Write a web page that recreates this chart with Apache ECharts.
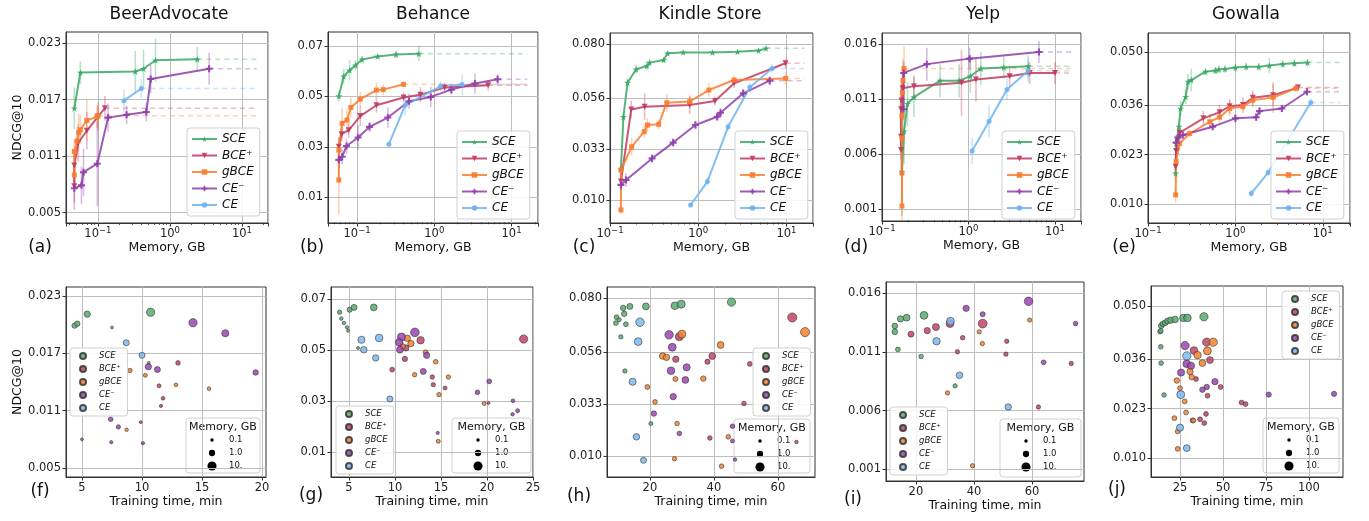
<!DOCTYPE html>
<html><head><meta charset="utf-8">
<script src="https://cdn.jsdelivr.net/npm/echarts@6/dist/echarts.min.js"></script>
<style>html,body{margin:0;padding:0;background:#fff}#c{width:1369px;height:521px}</style>
</head><body><div id="c"></div><script>
const METHODS = ['SCE', 'BCE⁺', 'gBCE', 'CE⁻', 'CE'];
const DATASETS = ['BeerAdvocate', 'Behance', 'Kindle Store', 'Yelp', 'Gowalla'];
const PANEL_LABELS = ['(a)', '(b)', '(c)', '(d)', '(e)', '(f)', '(g)', '(h)', '(i)', '(j)'];
const MEMORY_LEGEND_GB = [0.1, 1.0, 10];
const MEMORY_LEGEND_TEXT = ['0.1', '1.0', '10.'];
const DASH_TO_GB = 16;

// ---- top row: [memory GB, NDCG@10, error half-width] ----
const A_SCE = [[0.047,0.0161,0.0022],[0.057,0.0199,0.0012],[0.33,0.0200,0.0022],[0.43,0.0203,0.0020],[0.63,0.0212,0.0023],[2.4,0.0213,0.0013]];
const A_BCE = [[0.047,0.0078,0.0025],[0.047,0.0100,0.0015],[0.053,0.0124,0.0020],[0.070,0.0137,0.0020],[0.10,0.0152,0.0015],[0.125,0.0161,0.0013]];
const A_GBCE = [[0.047,0.0090,0.0010],[0.047,0.0115,0.0012],[0.051,0.0126,0.0015],[0.054,0.0135,0.0020],[0.057,0.0138,0.0015],[0.070,0.0148,0.0022],[0.097,0.0152,0.0012],[0.10,0.0153,0.0010]];
const A_CEM = [[0.047,0.0076,0.0015],[0.059,0.0079,0.0020],[0.063,0.0093,0.0025],[0.098,0.0102,0.0045],[0.138,0.0151,0.0015],[0.25,0.0154,0.0010],[0.47,0.0157,0.0010],[0.54,0.0192,0.0015],[3.5,0.0203,0.0017]];
const A_CE = [[0.23,0.0169,0.0012],[0.40,0.0182,0.0010]];

const B_SCE = [[0.058,0.0501,0.002],[0.067,0.058,0.003],[0.080,0.0604,0.004],[0.095,0.0624,0.002],[0.116,0.0647,0.0015],[0.185,0.0659,0.001],[0.32,0.0667,0.0015],[0.63,0.067,0.003]];
const B_BCE = [[0.058,0.0300,0.004],[0.063,0.0350,0.003],[0.078,0.0366,0.003],[0.11,0.0422,0.004],[0.178,0.0465,0.003],[0.40,0.0496,0.002],[0.66,0.0507,0.003],[1.36,0.0535,0.002],[4.98,0.0544,0.002]];
const B_GBCE = [[0.058,0.0168,0.014],[0.058,0.0287,0.005],[0.064,0.0393,0.006],[0.074,0.0406,0.004],[0.083,0.0456,0.004],[0.11,0.0489,0.003],[0.178,0.0525,0.003],[0.218,0.0527,0.002],[0.40,0.0548,0.001]];
const B_CEM = [[0.058,0.0248,0.003],[0.064,0.026,0.003],[0.073,0.0303,0.003],[0.103,0.0337,0.005],[0.145,0.0379,0.002],[0.25,0.0416,0.004],[0.47,0.0481,0.003],[0.90,0.0498,0.004],[1.66,0.0527,0.002],[3.36,0.0551,0.004],[6.6,0.0568,0.002]];
const B_CE = [[0.258,0.031,0.001],[0.42,0.0465,0.004],[1.2,0.054,0.002],[2.3,0.0547,0.004]];

const C_SCE = [[0.133,0.0239,0.002],[0.142,0.0475,0.002],[0.158,0.0628,0.002],[0.198,0.0688,0.002],[0.262,0.0703,0.002],[0.281,0.0718,0.001],[0.406,0.073,0.001],[0.45,0.076,0.001],[0.675,0.0764,0.0005],[1.45,0.0764,0.0005],[2.79,0.0767,0.0005],[4.83,0.0772,0.0005],[5.86,0.0782,0.0005]];
const C_BCE = [[0.133,0.0184,0.003],[0.174,0.0508,0.004],[0.247,0.052,0.006],[0.80,0.0528,0.004],[1.55,0.0546,0.002],[2.55,0.0625,0.002],[9.75,0.0715,0.002]];
const C_GBCE = [[0.133,0.0057,0.002],[0.133,0.0236,0.002],[0.176,0.034,0.004],[0.244,0.0408,0.003],[0.266,0.0438,0.003],[0.356,0.0441,0.002],[0.44,0.0538,0.004],[0.80,0.0543,0.003],[1.32,0.0595,0.003],[2.55,0.064,0.002],[9.8,0.0647,0.003]];
const C_CEM = [[0.133,0.0169,0.003],[0.152,0.0191,0.003],[0.30,0.0288,0.002],[0.52,0.0359,0.002],[0.93,0.0438,0.002],[1.64,0.0475,0.002],[1.79,0.0493,0.002],[3.24,0.058,0.002],[6.46,0.0637,0.002]];
const C_CE = [[0.82,0.0079,0.001],[1.27,0.0184,0.002],[2.18,0.043,0.002],[3.85,0.0607,0.002],[6.87,0.0692,0.002]];

const D_SCE = [[0.17,0.0044,0.004],[0.18,0.0081,0.003],[0.197,0.0106,0.002],[0.234,0.0112,0.0018],[0.47,0.0127,0.0015],[0.78,0.0127,0.0015],[1.05,0.0131,0.0015],[1.39,0.0138,0.0015],[2.56,0.0139,0.001],[4.9,0.014,0.001]];
const D_BCE = [[0.166,0.0064,0.002],[0.166,0.0076,0.002],[0.166,0.0101,0.002],[0.168,0.0109,0.002],[0.173,0.012,0.002],[0.234,0.0122,0.001],[0.83,0.0125,0.003],[1.22,0.0128,0.002],[2.99,0.0131,0.001],[5.1,0.0134,0.001],[10,0.0134,0.001]];
const D_GBCE = [[0.17,0.0013,0.002],[0.17,0.0043,0.002],[0.17,0.0075,0.002],[0.17,0.0095,0.002],[0.172,0.0116,0.002],[0.175,0.0127,0.002],[0.18,0.0138,0.002]];
const D_CEM = [[0.177,0.0101,0.001],[0.178,0.0134,0.001],[0.33,0.0142,0.0015],[1.03,0.0147,0.001],[6.53,0.0153,0.001]];
const D_CE = [[1.1,0.0063,0.0012],[1.73,0.009,0.0015],[2.79,0.0119,0.001],[4.9,0.0136,0.001]];

const E_SCE = [[0.207,0.0181,0.002],[0.21,0.026,0.002],[0.226,0.0304,0.002],[0.236,0.0352,0.002],[0.27,0.0383,0.002],[0.287,0.0423,0.002],[0.313,0.0427,0.003],[0.455,0.0449,0.001],[0.59,0.0452,0.001],[0.647,0.0455,0.001],[0.76,0.0456,0.001],[1.0,0.046,0.001],[1.33,0.0462,0.001],[1.85,0.0462,0.001],[2.45,0.0465,0.002],[3.48,0.0469,0.001],[4.74,0.0471,0.001],[6.7,0.0473,0.001]];
const E_BCE = [[0.207,0.0198,0.002],[0.21,0.024,0.002],[0.23,0.0288,0.002],[0.43,0.0326,0.002],[0.66,0.0342,0.002],[0.86,0.0358,0.002],[1.22,0.0361,0.002],[1.58,0.038,0.002],[2.7,0.0387,0.003],[5.2,0.0407,0.001]];
const E_GBCE = [[0.207,0.0124,0.002],[0.21,0.0212,0.002],[0.23,0.026,0.002],[0.30,0.0286,0.001],[0.51,0.0317,0.002],[0.66,0.0329,0.002],[0.86,0.0352,0.002],[1.22,0.0357,0.001],[1.58,0.0374,0.002],[2.7,0.0381,0.004],[4.9,0.0405,0.001]];
const E_CEM = [[0.21,0.0262,0.002],[0.22,0.0275,0.001],[0.25,0.0282,0.001],[0.55,0.0304,0.001],[1.0,0.0326,0.001],[1.73,0.0329,0.001],[1.89,0.0345,0.001],[3.4,0.0352,0.001],[6.6,0.0396,0.001]];
const E_CE = [[1.52,0.0128,0.001],[2.37,0.0183,0.001],[7.3,0.0368,0.001]];

// ---- bottom row: [training time min, NDCG@10, memory GB] ----
const F_SCE = [[4.39,0.0199,0.5],[4.61,0.0201,0.5],[5.44,0.0211,1],[10.72,0.0213,5],[7.5,0.0197,0.06],[10.56,0.0160,0.06]];
const F_BCE = [[13.0,0.0160,0.25],[11.42,0.0136,0.15],[11.75,0.0123,0.12],[11.58,0.0115,0.08],[9.9,0.0098,0.06]];
const F_GBCE = [[9.0,0.0152,0.2],[10.28,0.0147,0.15],[12.83,0.0137,0.12],[15.58,0.0133,0.12],[8.72,0.0090,0.1]];
const F_CEM = [[14.25,0.0202,5],[16.94,0.0191,2],[10.53,0.0156,1],[11.28,0.0153,0.8],[19.47,0.0150,0.5],[7.39,0.0101,0.25],[8.03,0.0093,0.2],[7.44,0.0077,0.08],[5.0,0.0080,0.06],[10.08,0.0076,0.08]];
const F_CE = [[8.69,0.0181,0.8],[10.0,0.0168,0.8]];

const G_SCE = [[3.98,0.0648,0.2],[4.16,0.0623,0.1],[4.45,0.0606,0.1],[4.78,0.0589,0.08],[4.89,0.0576,0.07],[5.07,0.0658,0.4],[5.55,0.0667,0.8],[7.69,0.0667,1.5],[5.98,0.0508,0.07]];
const G_BCE = [[23.98,0.0543,5],[12.78,0.0538,2.5],[11.18,0.0508,1],[11.07,0.0465,0.4],[9.69,0.0423,0.3],[14.05,0.0394,0.2],[14.16,0.0364,0.2],[15.44,0.0351,0.15],[20.16,0.0292,0.06]];
const G_GBCE = [[11.33,0.0546,1.2],[11.73,0.0525,1],[10.82,0.0514,0.6],[13.33,0.0491,0.3],[14.42,0.0454,0.25],[12.13,0.0403,0.2],[15.8,0.0394,0.2],[14.78,0.0325,0.2],[19.69,0.029,0.15],[14.7,0.0142,0.15]];
const G_CEM = [[12.16,0.0569,7],[10.7,0.0551,4],[10.45,0.053,3],[10.53,0.0501,1.5],[13.44,0.0479,1],[13.07,0.0416,0.8],[20.24,0.0377,0.3],[18.96,0.0334,0.25],[22.82,0.0301,0.12],[23.33,0.0262,0.15],[22.78,0.0248,0.1],[14.64,0.0175,0.08]];
const G_CE = [[6.35,0.054,2],[6.6,0.0501,1.2],[7.9,0.0469,1],[8.27,0.0547,3],[9.44,0.0308,0.8]];

const H_SCE = [[9.38,0.0689,0.3],[9.58,0.0715,0.3],[10.42,0.0704,0.15],[11.67,0.0756,0.5],[13.75,0.0763,0.8],[11.98,0.073,0.5],[12.5,0.0684,0.3],[10.94,0.0628,0.2],[12.19,0.0477,0.2],[18.75,0.0763,1.5],[27.8,0.0766,3],[29.8,0.0773,4],[45.5,0.0782,5],[20.3,0.0244,0.15]];
const H_BCE = [[29.2,0.0629,4],[64.5,0.0714,10],[28.1,0.0529,1],[39.5,0.0543,1.5],[38.0,0.0518,0.4],[51.25,0.0508,0.3],[49.4,0.0333,0.25],[38.75,0.018,0.25],[65.8,0.0162,0.1]];
const H_GBCE = [[30.0,0.064,4],[68.5,0.0649,10],[42.1,0.0592,1.5],[24.0,0.0543,1.2],[25.2,0.0537,1],[28.0,0.0441,0.35],[36.7,0.0443,0.5],[19.2,0.0406,0.3],[21.6,0.034,0.25],[28.5,0.0244,0.25],[44.5,0.0185,0.25],[27.7,0.0088,0.2],[42.4,0.0055,0.25]];
const H_CEM = [[26.0,0.0637,6],[27.0,0.0582,3.5],[26.6,0.0478,3],[31.5,0.0493,2],[31.1,0.0437,1.5],[27.3,0.0363,1],[21.25,0.0288,0.5],[29.2,0.020,0.25],[45.8,0.0232,0.25],[45.8,0.0167,0.15],[46.6,0.0084,0.1]];
const H_CE = [[16.9,0.0693,6],[16.35,0.0607,3.5],[14.6,0.0429,2],[15.8,0.0185,1.2],[18.0,0.0081,0.8]];

const I_SCE = [[12.74,0.0132,0.6],[12.74,0.0127,0.6],[14.7,0.0138,1],[16.8,0.0139,1.5],[22.8,0.0141,3.5],[13.8,0.0112,0.3],[21.8,0.0106,0.25],[33.5,0.0081,0.2]];
const I_BCE = [[18.3,0.0125,0.8],[23.9,0.0128,1],[26.9,0.0131,1.8],[31.75,0.0134,3.5],[43.0,0.0134,8],[36.1,0.0122,0.25],[34.3,0.011,0.2],[51.3,0.0119,0.2],[51.0,0.0108,0.2],[73.5,0.01,0.2],[62.2,0.0063,0.2]];
const I_GBCE = [[41.8,0.0127,0.2],[42.9,0.0117,0.2],[59.2,0.0137,0.2],[30.9,0.0075,0.2],[39.5,0.0013,0.2]];
const I_CEM = [[58.8,0.0153,6],[37.3,0.0147,1],[43.0,0.0142,0.35],[75.0,0.0134,0.25],[64.0,0.0101,0.3]];
const I_CE = [[31.9,0.0136,3.5],[27.1,0.0119,2.5],[35.0,0.009,1.3],[51.8,0.0063,1.1]];

const J_SCE = [[13.4,0.0433,0.3],[13.8,0.0435,0.3],[14.0,0.0448,0.5],[14.9,0.0453,0.5],[16.3,0.0456,0.6],[17.8,0.0461,0.8],[19.6,0.0463,1],[22.1,0.0465,1.2],[26.9,0.0469,2.5],[29.3,0.0469,3],[38.9,0.0472,5],[13.8,0.0393,0.25],[14.0,0.035,0.25],[15.7,0.0266,0.25]];
const J_BCE = [[40.5,0.0405,5],[33.1,0.0383,3],[42.4,0.0358,1.5],[34.3,0.0308,0.3],[48.6,0.0287,0.3],[41.0,0.0264,0.3],[60.8,0.0246,0.3],[63.1,0.0242,0.3],[40.1,0.0216,0.3],[36.6,0.0202,0.3],[39.1,0.0192,0.3],[32.3,0.0199,0.3]];
const J_GBCE = [[44.3,0.0405,5],[40.9,0.0382,3.5],[35.2,0.0371,2.5],[38.0,0.035,1.5],[30.8,0.0328,1],[31.8,0.0313,0.5],[23.1,0.0304,0.5],[25.0,0.0284,0.3],[27.7,0.0249,0.3],[28.5,0.022,0.3],[21.7,0.0205,0.3],[23.6,0.017,0.3],[23.6,0.0124,0.3],[32.7,0.0199,0.3]];
const J_CEM = [[27.9,0.0396,5],[28.9,0.0348,3],[31.4,0.0343,2],[25.6,0.0325,2],[45.3,0.0301,1],[40.5,0.0287,0.5],[38.0,0.028,0.5],[76.6,0.0267,0.4],[114.6,0.0269,0.4]];
const J_CE = [[28.9,0.0369,5],[25.4,0.0267,4],[25.0,0.018,2],[28.9,0.0126,1.5]];

// ---- axes ----
const TOP_X_RANGE = [[0.036, 23], [0.042, 22], [0.1, 20], [0.1, 20], [0.1, 20.5]];
const TOP_X_MINOR = [0.02,0.03,0.04,0.05,0.06,0.07,0.08,0.09,0.2,0.3,0.4,0.5,0.6,0.7,0.8,0.9,2,3,4,5,6,7,8,9,20,30];
const TOP_Y_RANGE = [[0.0039, 0.0242], [-0.0003, 0.0756], [-0.0002, 0.0851], [-0.00006, 0.01703], [0.005, 0.0551]];
const TOP_Y_TICKS = [[0.005, 0.011, 0.017, 0.023], [0.01, 0.03, 0.05, 0.07], [0.010, 0.033, 0.056, 0.080], [0.001, 0.006, 0.011, 0.016], [0.010, 0.023, 0.036, 0.050]];
const BOT_X_RANGE = [[3.67, 20.33], [3.04, 25], [6.6, 71.6], [9.7, 77.9], [8.1, 119.8]];
const BOT_X_TICKS = [[5, 10, 15, 20], [5, 10, 15, 20, 25], [20, 40, 60], [20, 40, 60], [25, 50, 75, 100]];
const BOT_Y_RANGE = [[0.00406, 0.02394], [0.0002, 0.0747], [0.0007, 0.0849], [0.0, 0.01694], [0.005, 0.0553]];
const BOT_Y_TICKS = TOP_Y_TICKS;
const Y_DECIMALS = [3, 2, 3, 3, 3];

const TOP_DATA = [[A_SCE,A_BCE,A_GBCE,A_CEM,A_CE],[B_SCE,B_BCE,B_GBCE,B_CEM,B_CE],[C_SCE,C_BCE,C_GBCE,C_CEM,C_CE],[D_SCE,D_BCE,D_GBCE,D_CEM,D_CE],[E_SCE,E_BCE,E_GBCE,E_CEM,E_CE]];
const BOT_DATA = [[F_SCE,F_BCE,F_GBCE,F_CEM,F_CE],[G_SCE,G_BCE,G_GBCE,G_CEM,G_CE],[H_SCE,H_BCE,H_GBCE,H_CEM,H_CE],[I_SCE,I_BCE,I_GBCE,I_CEM,I_CE],[J_SCE,J_BCE,J_GBCE,J_CEM,J_CE]];

// ---- layout & style ----
const TOP_GRIDS = [[66,32,202,191],[328,32,210,191],[610,33,203,190],[882,33,199,188],[1148,33,202,190]];
const BOT_GRIDS = [[66,287,200,190],[331,287,202,190],[607,287,208,190],[886,282,198,199],[1151,286,192,191]];
const TITLE_X = [169, 433, 710, 983, 1246];
const LABEL_POS = [[40,248],[312,248],[584,248],[856,248],[1124,248],[40,492],[311,496],[579,497],[853,500],[1117,490]];
const TOP_LEGEND_POS = [[187,128],[457,131],[735,131],[1002,131],[1271,131]];
const BOT_LEGEND_POS = [[70,348],[336,406],[753,348],[890,407],[1282,291]];
const MEM_LEGEND_BOX = [[186,418,74,55],[452,418,79,55],[734,419,76,54],[1000,419,81,58],[1263,418,76,55]];
const LINE_COLORS = ['#3aa864', '#bf3a5e', '#f97b2f', '#8e3ea8', '#6db3f2'];
const SCAT_COLORS = ['#5aac6e', '#c04566', '#f5842f', '#9a46b0', '#7cb9f0'];
const STAR = 'path://M50,0 L61,35 L98,35 L68,57 L79,91 L50,70 L21,91 L32,57 L2,35 L39,35 Z';
const PLUS = 'path://M35,0H65V35H100V65H65V100H35V65H0V35H35Z';
const SYMBOLS = [STAR, 'triangle', 'rect', PLUS, 'circle'];
const SYMBOL_SIZE = [7, 6, 5, 7, 5];
const SYMBOL_ROT = [0, 180, 0, 0, 0];
const FONT = 'DejaVu Sans';
const AXIS_COLOR = '#333';
const GRID_COLOR = '#bdbdbd';
const sizeOf = m => Math.max(2.5, 6.3 + 2.8 * Math.log10(m));

const grid = [], xAxis = [], yAxis = [], series = [], legend = [], graphic = [];
const minorAxes = [];

function logFormatter(v) {
  const k = Math.log10(v), r = Math.round(k);
  if (Math.abs(k - r) > 1e-6) return '';
  return '{b|10}{s|' + (r < 0 ? '−' : '') + Math.abs(r) + '}';
}

// top row
for (let p = 0; p < 5; p++) {
  const g = TOP_GRIDS[p];
  grid.push({left: g[0], top: g[1], width: g[2], height: g[3], show: true, borderColor: AXIS_COLOR, borderWidth: 1, backgroundColor: 'transparent'});
  xAxis.push({
    type: 'log', logBase: 10, gridIndex: p, min: TOP_X_RANGE[p][0], max: TOP_X_RANGE[p][1], position: 'bottom',
    name: 'Memory, GB', nameLocation: 'middle', nameGap: 17,
    nameTextStyle: {fontFamily: FONT, fontSize: 12.5, color: '#111'},
    axisLine: {show: true, onZero: false, lineStyle: {color: AXIS_COLOR}},
    axisTick: {show: true, length: 3.5, lineStyle: {color: AXIS_COLOR}},
    axisLabel: {formatter: logFormatter, margin: 3, showMinLabel: true, showMaxLabel: true, hideOverlap: false,
      rich: {b: {fontFamily: FONT, fontSize: 11.5, color: '#222', lineHeight: 14, verticalAlign: 'bottom'},
             s: {fontFamily: FONT, fontSize: 8.5, color: '#222', lineHeight: 7, verticalAlign: 'top'}}},
    splitLine: {show: true, lineStyle: {color: GRID_COLOR, width: 1}}
  });
  // helper axis (log10 units) only carrying the minor tick marks of the log axis
  const lo = Math.log10(TOP_X_RANGE[p][0]), hi = Math.log10(TOP_X_RANGE[p][1]);
  const minor = TOP_X_MINOR.map(v => Math.log10(v)).filter(v => v > lo && v < hi);
  minorAxes.push({
    type: 'value', gridIndex: p, min: lo, max: hi, position: 'bottom', offset: 0,
    axisLine: {show: false}, axisLabel: {show: false, customValues: minor}, splitLine: {show: false},
    axisTick: {show: true, length: 2, customValues: minor, lineStyle: {color: AXIS_COLOR, width: 0.8}}
  });
  yAxis.push({
    type: 'value', gridIndex: p, min: TOP_Y_RANGE[p][0], max: TOP_Y_RANGE[p][1],
    name: p === 0 ? 'NDCG@10' : '', nameLocation: 'middle', nameGap: 41,
    nameTextStyle: {fontFamily: FONT, fontSize: 12.5, color: '#111'},
    axisLine: {show: true, onZero: false, lineStyle: {color: AXIS_COLOR}},
    axisTick: {show: true, length: 3.5, customValues: TOP_Y_TICKS[p], lineStyle: {color: AXIS_COLOR}},
    axisLabel: {customValues: TOP_Y_TICKS[p], formatter: v => v.toFixed(Y_DECIMALS[p]), margin: 5, fontFamily: FONT, fontSize: 11.5, color: '#222'},
    splitLine: {show: true, customValues: TOP_Y_TICKS[p], lineStyle: {color: GRID_COLOR, width: 1}}
  });
  TOP_DATA[p].forEach((rows, m) => {
    const color = LINE_COLORS[m];
    series.push({
      type: 'custom', xAxisIndex: p, yAxisIndex: p, silent: true, clip: true, z: 1,
      data: rows.map(r => [r[0], r[1] - r[2], r[1] + r[2]]),
      encode: {x: 0, y: [1, 2]},
      renderItem: (params, api) => {
        const a = api.coord([api.value(0), api.value(1)]);
        const b = api.coord([api.value(0), api.value(2)]);
        return {type: 'line', shape: {x1: a[0], y1: a[1], x2: b[0], y2: b[1]}, style: {stroke: color, lineWidth: 1.6, opacity: 0.35}};
      }
    });
    const last = rows[rows.length - 1];
    series.push({
      type: 'line', xAxisIndex: p, yAxisIndex: p, silent: true, symbol: 'none', z: 1,
      data: [[last[0], last[1]], [DASH_TO_GB, last[1]]],
      lineStyle: {color: color, width: 1.5, type: [5, 4], opacity: 0.35}
    });
  });
  TOP_DATA[p].forEach((rows, m) => {
    series.push({
      name: METHODS[m], type: 'line', xAxisIndex: p, yAxisIndex: p, z: 3,
      data: rows.map(r => [r[0], r[1]]),
      symbol: SYMBOLS[m], symbolSize: SYMBOL_SIZE[m], symbolRotate: SYMBOL_ROT[m], showAllSymbol: true,
      itemStyle: {color: LINE_COLORS[m], opacity: 0.9},
      lineStyle: {color: LINE_COLORS[m], width: 2, opacity: 0.85}
    });
  });
  legend.push({
    data: METHODS, left: TOP_LEGEND_POS[p][0], top: TOP_LEGEND_POS[p][1], orient: 'vertical',
    itemWidth: 25, itemHeight: 7, itemGap: 2.5, padding: [4, 6, 4, 4],
    backgroundColor: 'rgba(255,255,255,0.85)', borderColor: '#d0d0d0', borderWidth: 1, borderRadius: 3,
    selectedMode: false,
    textStyle: {fontFamily: FONT, fontSize: 12, fontStyle: 'italic', color: '#111', lineHeight: 14}
  });
  graphic.push({type: 'text', x: TITLE_X[p], y: 15, silent: true,
    style: {text: DATASETS[p], font: '17px "DejaVu Sans"', fill: '#111', textAlign: 'center', textVerticalAlign: 'middle'}});
}

// bottom row
for (let p = 0; p < 5; p++) {
  const gi = p + 5, g = BOT_GRIDS[p];
  grid.push({left: g[0], top: g[1], width: g[2], height: g[3], show: true, borderColor: AXIS_COLOR, borderWidth: 1, backgroundColor: 'transparent'});
  xAxis.push({
    type: 'value', gridIndex: gi, min: BOT_X_RANGE[p][0], max: BOT_X_RANGE[p][1], position: 'bottom',
    name: 'Training time, min', nameLocation: 'middle', nameGap: 17,
    nameTextStyle: {fontFamily: FONT, fontSize: 12.5, color: '#111'},
    axisLine: {show: true, onZero: false, lineStyle: {color: AXIS_COLOR}},
    axisTick: {show: true, length: 3.5, customValues: BOT_X_TICKS[p], lineStyle: {color: AXIS_COLOR}},
    axisLabel: {customValues: BOT_X_TICKS[p], margin: 5, fontFamily: FONT, fontSize: 11.5, color: '#222'},
    splitLine: {show: true, customValues: BOT_X_TICKS[p], lineStyle: {color: GRID_COLOR, width: 1}}
  });
  yAxis.push({
    type: 'value', gridIndex: gi, min: BOT_Y_RANGE[p][0], max: BOT_Y_RANGE[p][1],
    name: p === 0 ? 'NDCG@10' : '', nameLocation: 'middle', nameGap: 41,
    nameTextStyle: {fontFamily: FONT, fontSize: 12.5, color: '#111'},
    axisLine: {show: true, onZero: false, lineStyle: {color: AXIS_COLOR}},
    axisTick: {show: true, length: 3.5, customValues: BOT_Y_TICKS[p], lineStyle: {color: AXIS_COLOR}},
    axisLabel: {customValues: BOT_Y_TICKS[p], formatter: v => v.toFixed(Y_DECIMALS[p]), margin: 5, fontFamily: FONT, fontSize: 11.5, color: '#222'},
    splitLine: {show: true, customValues: BOT_Y_TICKS[p], lineStyle: {color: GRID_COLOR, width: 1}}
  });
  BOT_DATA[p].forEach((rows, m) => {
    series.push({
      name: METHODS[m] + '\u200b', type: 'scatter', xAxisIndex: gi, yAxisIndex: gi, z: 3,
      data: rows, symbolSize: v => sizeOf(v[2]),
      itemStyle: {color: SCAT_COLORS[m], opacity: 0.85, borderColor: '#333', borderWidth: 0.7}
    });
  });
  legend.push({
    data: METHODS.map(n => n + '\u200b'), left: BOT_LEGEND_POS[p][0], top: BOT_LEGEND_POS[p][1], orient: 'vertical',
    itemWidth: 6, itemHeight: 6, itemGap: 3, padding: [3, 6, 3, 9], icon: 'circle',
    backgroundColor: 'rgba(255,255,255,0.85)', borderColor: '#d0d0d0', borderWidth: 1, borderRadius: 3,
    selectedMode: false,
    textStyle: {fontFamily: FONT, fontSize: 8.5, fontStyle: 'italic', color: '#111', lineHeight: 10, padding: [0, 0, 0, 8]}
  });
  const b = MEM_LEGEND_BOX[p];
  const children = [
    {type: 'rect', shape: {x: 0, y: 0, width: b[2], height: b[3], r: 3}, style: {fill: 'rgba(255,255,255,0.85)', stroke: '#d0d0d0', lineWidth: 1}},
    {type: 'text', x: b[2] / 2, y: 9, style: {text: 'Memory, GB', font: '11px "DejaVu Sans"', fill: '#111', textAlign: 'center', textVerticalAlign: 'middle'}}
  ];
  MEMORY_LEGEND_GB.forEach((m, k) => {
    const cy = 22 + k * 13;
    children.push({type: 'circle', shape: {cx: 26, cy: cy, r: sizeOf(m) / 2}, style: {fill: '#000'}});
    children.push({type: 'text', x: 43, y: cy, style: {text: MEMORY_LEGEND_TEXT[k], font: '8.5px "DejaVu Sans"', fill: '#111', textAlign: 'left', textVerticalAlign: 'middle'}});
  });
  graphic.push({type: 'group', x: b[0], y: b[1], z: 100, silent: true, children: children});
}
minorAxes.forEach(a => xAxis.push(a));

PANEL_LABELS.forEach((t, i) => {
  graphic.push({type: 'text', x: LABEL_POS[i][0], y: LABEL_POS[i][1], silent: true,
    style: {text: t, font: '17px "DejaVu Sans"', fill: '#111', textAlign: 'center', textVerticalAlign: 'middle'}});
});

const chart = echarts.init(document.getElementById('c'), null, {renderer: 'canvas'});
chart.setOption({animation: false, backgroundColor: '#fff', grid, xAxis, yAxis, series, legend, graphic});
</script></body></html>
